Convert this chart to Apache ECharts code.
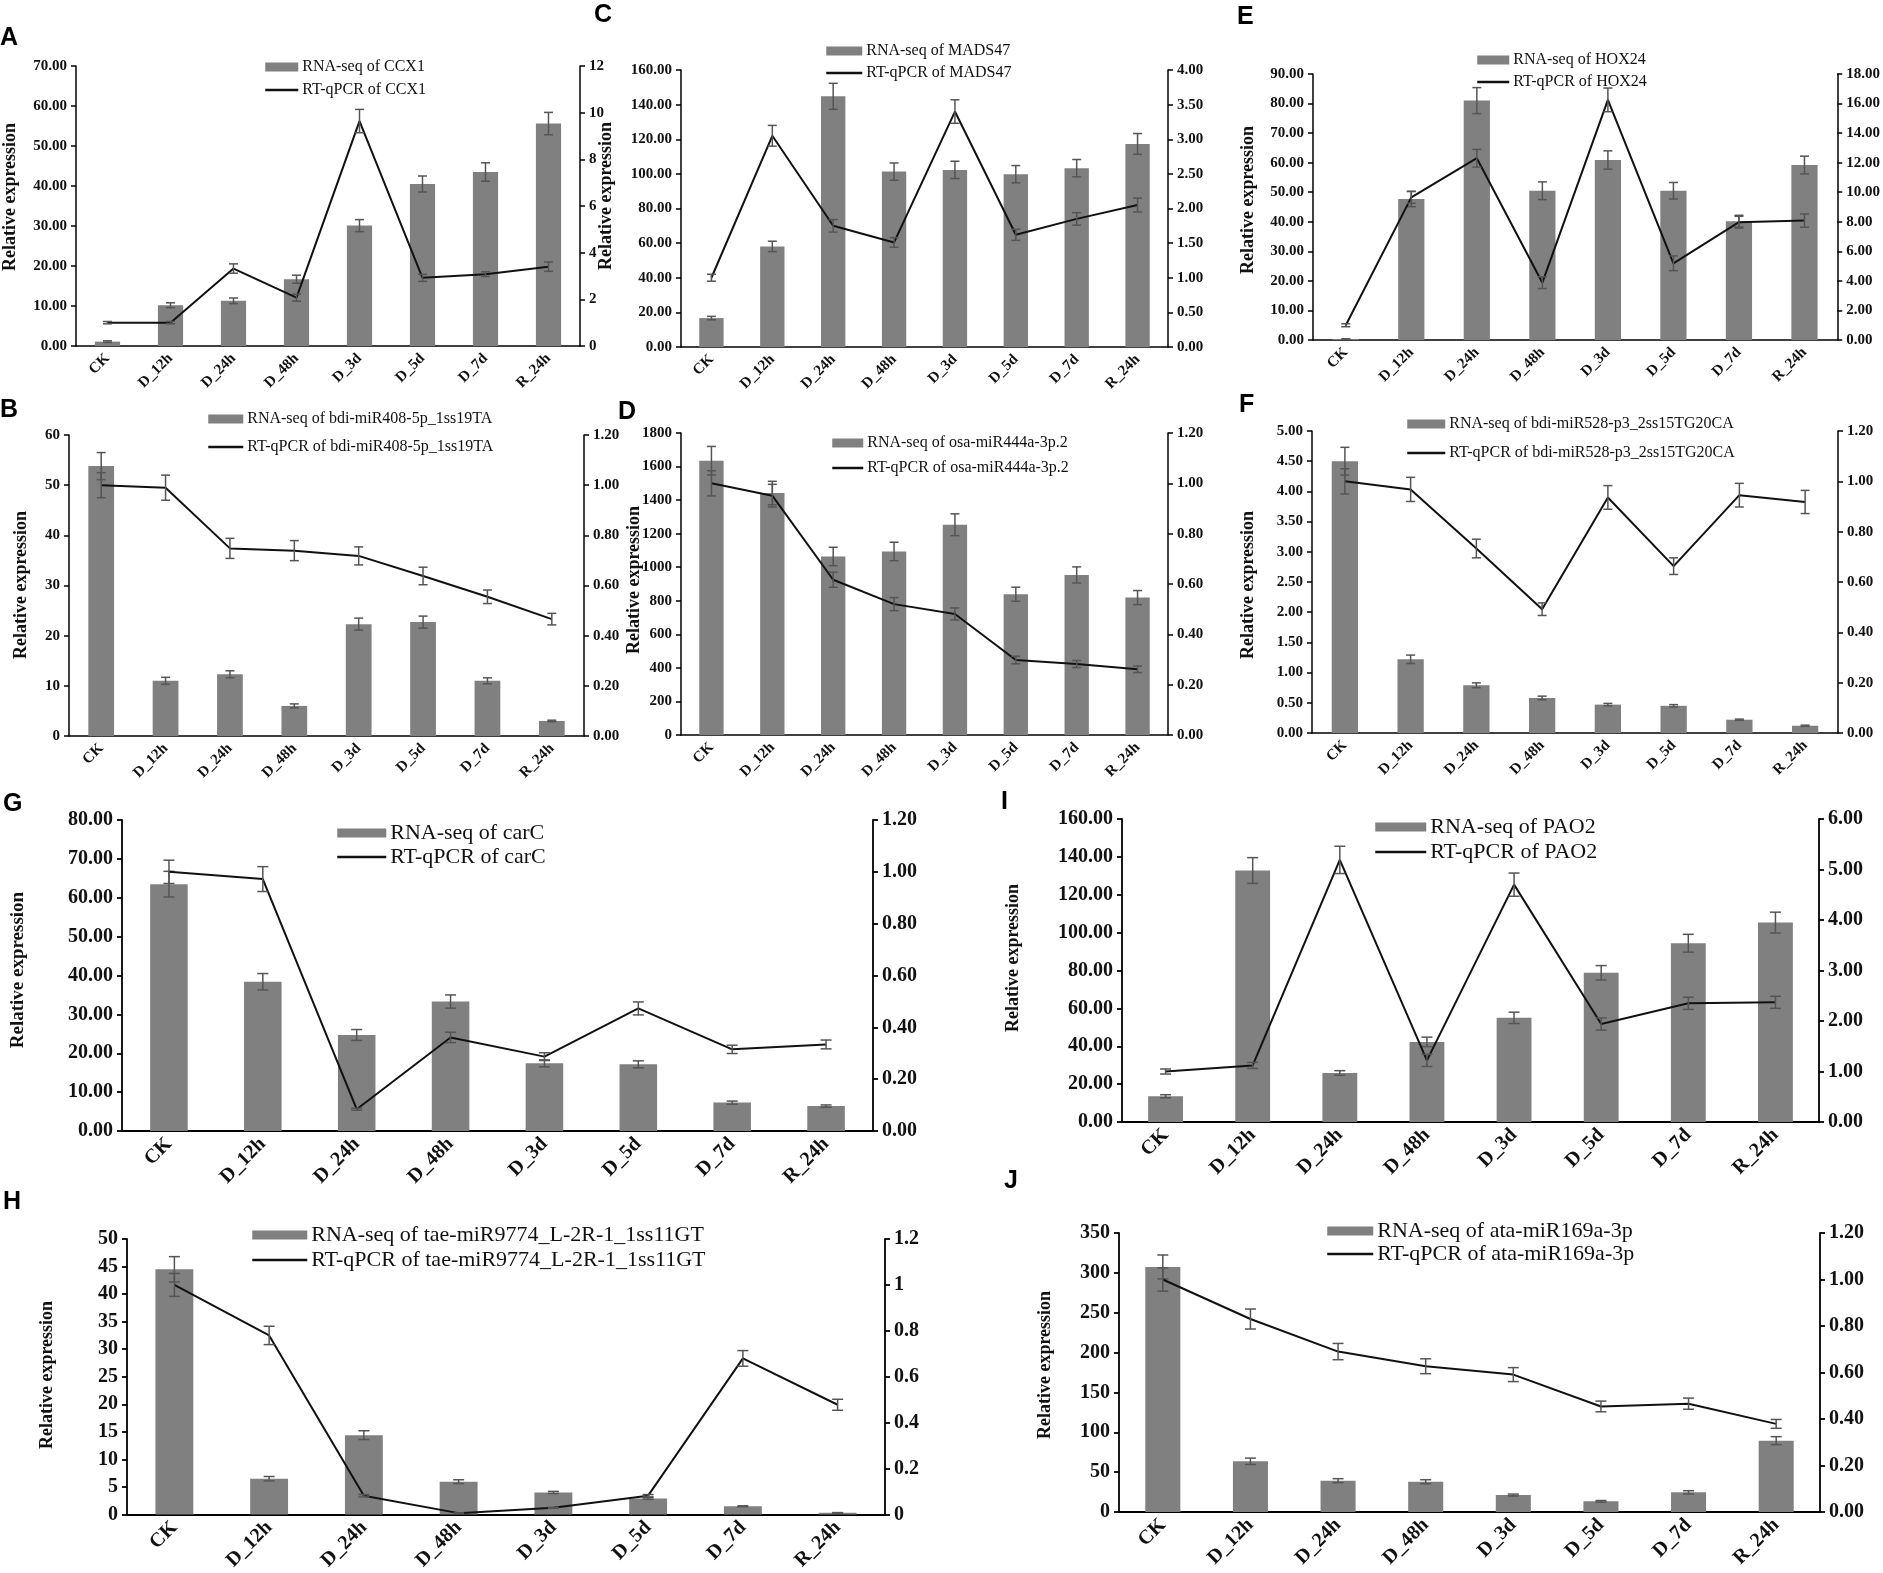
<!DOCTYPE html>
<html>
<head>
<meta charset="utf-8">
<script src="https://cdn.jsdelivr.net/npm/echarts@6/dist/echarts.min.js"></script>
<style>
  html, body { margin: 0; padding: 0; background: #fff; }
  #chart { width: 1883px; height: 1573px; }
</style>
</head>
<body>
<div id="chart"></div>
<script>
const categories = ['CK', 'D_12h', 'D_24h', 'D_48h', 'D_3d', 'D_5d', 'D_7d', 'R_24h'];

// A - CCX1
const ccx1Rna = [1.1, 10.2, 11.3, 16.7, 30.1, 40.5, 43.5, 55.6];
const ccx1RnaErr = [0.2, 0.6, 0.7, 1.0, 1.5, 2.0, 2.3, 2.8];
const ccx1Qpcr = [1.0, 1.0, 3.32, 2.07, 9.64, 2.92, 3.08, 3.4];
const ccx1QpcrErr = [0.05, 0.05, 0.2, 0.15, 0.5, 0.15, 0.1, 0.2];

// C - MADS47
const mads47Rna = [16.7, 58.1, 144.8, 101.3, 102.3, 99.8, 103.3, 117.3];
const mads47RnaErr = [1.0, 3.0, 7.5, 5.0, 5.0, 5.0, 5.0, 6.0];
const mads47Qpcr = [1.0, 3.05, 1.75, 1.51, 3.4, 1.62, 1.85, 2.05];
const mads47QpcrErr = [0.05, 0.15, 0.09, 0.07, 0.17, 0.08, 0.09, 0.1];

// E - HOX24
const hox24Rna = [0.3, 47.7, 81.0, 50.5, 60.9, 50.5, 40.2, 59.2];
const hox24RnaErr = [0.1, 2.6, 4.4, 3.0, 3.1, 2.8, 2.0, 3.0];
const hox24Qpcr = [1.0, 9.65, 12.3, 3.88, 16.25, 5.19, 7.97, 8.08];
const hox24QpcrErr = [0.1, 0.4, 0.6, 0.4, 0.8, 0.5, 0.4, 0.45];

// B - bdi-miR408-5p_1ss19TA
const mir408Rna = [53.8, 11.0, 12.3, 6.0, 22.3, 22.7, 11.0, 3.0];
const mir408RnaErr = [2.7, 0.7, 0.7, 0.4, 1.2, 1.2, 0.6, 0.15];
const mir408Qpcr = [1.0, 0.99, 0.748, 0.739, 0.718, 0.638, 0.555, 0.466];
const mir408QpcrErr = [0.05, 0.05, 0.04, 0.04, 0.036, 0.035, 0.027, 0.023];

// D - osa-miR444a-3p.2
const mir444Rna = [1635, 1442, 1064, 1094, 1253, 839, 954, 819];
const mir444RnaErr = [85, 70, 55, 55, 65, 42, 48, 42];
const mir444Qpcr = [1.0, 0.951, 0.617, 0.52, 0.481, 0.298, 0.282, 0.261];
const mir444QpcrErr = [0.05, 0.045, 0.03, 0.026, 0.024, 0.015, 0.014, 0.013];

// F - bdi-miR528-p3_2ss15TG20CA
const mir528Rna = [4.5, 1.22, 0.79, 0.58, 0.47, 0.45, 0.22, 0.12];
const mir528RnaErr = [0.23, 0.07, 0.04, 0.03, 0.02, 0.02, 0.01, 0.01];
const mir528Qpcr = [1.0, 0.968, 0.733, 0.492, 0.936, 0.663, 0.945, 0.918];
const mir528QpcrErr = [0.05, 0.048, 0.037, 0.025, 0.047, 0.033, 0.047, 0.046];

// G - carC
const carcRna = [63.5, 38.4, 24.7, 33.3, 17.4, 17.15, 7.3, 6.4];
const carcRnaErr = [3.3, 2.1, 1.4, 1.7, 0.9, 0.9, 0.4, 0.3];
const carcQpcr = [1.0, 0.972, 0.084, 0.361, 0.287, 0.473, 0.315, 0.334];
const carcQpcrErr = [0.045, 0.048, 0.004, 0.02, 0.015, 0.025, 0.016, 0.017];

// I - PAO2
const pao2Rna = [13.6, 132.8, 25.9, 42.3, 55.0, 78.8, 94.4, 105.3];
const pao2RnaErr = [0.8, 6.8, 1.2, 2.5, 3.0, 3.8, 4.7, 5.5];
const pao2Qpcr = [1.0, 1.12, 5.19, 1.22, 4.7, 1.94, 2.35, 2.37];
const pao2QpcrErr = [0.05, 0.06, 0.27, 0.12, 0.23, 0.12, 0.12, 0.12];

// H - tae-miR9774_L-2R-1_1ss11GT
const mir9774Rna = [44.5, 6.5, 14.4, 5.96, 4.0, 2.9, 1.5, 0.3];
const mir9774RnaErr = [2.3, 0.4, 0.8, 0.35, 0.2, 0.15, 0.08, 0.05];
const mir9774Qpcr = [1.0, 0.78, 0.082, 0.006, 0.029, 0.082, 0.68, 0.478];
const mir9774QpcrErr = [0.05, 0.04, 0.005, 0.001, 0.002, 0.005, 0.034, 0.024];

// J - ata-miR169a-3p
const mir169Rna = [307.4, 63.6, 39.3, 38.0, 21.3, 13.4, 24.7, 89.5];
const mir169RnaErr = [15, 4, 2.5, 2.5, 1.2, 1.0, 2.0, 5.0];
const mir169Qpcr = [1.0, 0.83, 0.69, 0.627, 0.591, 0.454, 0.466, 0.379];
const mir169QpcrErr = [0.05, 0.043, 0.035, 0.032, 0.03, 0.023, 0.024, 0.019];

const serif = '"Liberation Serif", "Times New Roman", serif';
const sans = '"Liberation Sans", Arial, sans-serif';

// text sizes for the small (top two rows) and large (bottom two rows) panels
const smallStyle = { tick: 15, xlabel: 15, legend: 16, cap: 9, axisWidth: 1.5 };
const largeStyle = { tick: 20, xlabel: 20, legend: 22, cap: 11, axisWidth: 1.8 };

// grid: [left, top, width, height], legend: [left, first item centre y, swatch width, row spacing]
const panels = [
    { gene: 'CCX1', rna: ccx1Rna, rnaErr: ccx1RnaErr, qpcr: ccx1Qpcr, qpcrErr: ccx1QpcrErr,
      leftAxis: [70, 10, 2], rightAxis: [12, 2, 0], grid: [76, 66, 504, 280], legend: [264, 67, 33, 23], st: smallStyle },
    { gene: 'MADS47', rna: mads47Rna, rnaErr: mads47RnaErr, qpcr: mads47Qpcr, qpcrErr: mads47QpcrErr,
      leftAxis: [160, 20, 2], rightAxis: [4, 0.5, 2], grid: [681, 70, 487, 277], legend: [825, 51, 36, 22], st: smallStyle },
    { gene: 'HOX24', rna: hox24Rna, rnaErr: hox24RnaErr, qpcr: hox24Qpcr, qpcrErr: hox24QpcrErr,
      leftAxis: [90, 10, 2], rightAxis: [18, 2, 2], grid: [1313, 74, 525, 266], legend: [1476, 60, 32, 22], st: smallStyle },
    { gene: 'bdi-miR408-5p_1ss19TA', rna: mir408Rna, rnaErr: mir408RnaErr, qpcr: mir408Qpcr, qpcrErr: mir408QpcrErr,
      leftAxis: [60, 10, 0], rightAxis: [1.2, 0.2, 2], grid: [69, 435, 515, 301], legend: [207, 419, 35, 28], st: smallStyle },
    { gene: 'osa-miR444a-3p.2', rna: mir444Rna, rnaErr: mir444RnaErr, qpcr: mir444Qpcr, qpcrErr: mir444QpcrErr,
      leftAxis: [1800, 200, 0], rightAxis: [1.2, 0.2, 2], grid: [681, 433, 487, 302], legend: [831, 443, 31, 25], st: smallStyle },
    { gene: 'bdi-miR528-p3_2ss15TG20CA', rna: mir528Rna, rnaErr: mir528RnaErr, qpcr: mir528Qpcr, qpcrErr: mir528QpcrErr,
      leftAxis: [5, 0.5, 2], rightAxis: [1.2, 0.2, 2], grid: [1312, 431, 526, 302], legend: [1406, 424, 38, 29], st: smallStyle },
    { gene: 'carC', rna: carcRna, rnaErr: carcRnaErr, qpcr: carcQpcr, qpcrErr: carcQpcrErr,
      leftAxis: [80, 10, 2], rightAxis: [1.2, 0.2, 2], grid: [122, 820, 751, 311], legend: [336, 833, 49, 24], st: largeStyle },
    { gene: 'PAO2', rna: pao2Rna, rnaErr: pao2RnaErr, qpcr: pao2Qpcr, qpcrErr: pao2QpcrErr,
      leftAxis: [160, 20, 2], rightAxis: [6, 1, 2], grid: [1122, 819, 697, 303], legend: [1374, 827, 51, 25], st: largeStyle },
    { gene: 'tae-miR9774_L-2R-1_1ss11GT', rna: mir9774Rna, rnaErr: mir9774RnaErr, qpcr: mir9774Qpcr, qpcrErr: mir9774QpcrErr,
      leftAxis: [50, 5, 0], rightAxis: [1.2, 0.2, -1], grid: [127, 1239, 758, 280], legend: [251, 1235, 55, 25], st: largeStyle },
    { gene: 'ata-miR169a-3p', rna: mir169Rna, rnaErr: mir169RnaErr, qpcr: mir169Qpcr, qpcrErr: mir169QpcrErr,
      leftAxis: [350, 50, 0], rightAxis: [1.2, 0.2, 2], grid: [1119, 1233, 701, 279], legend: [1326, 1231, 46, 23], st: largeStyle }
];

// panel letters: [text, left, top]
const letters = [
    ['A', 0, 26], ['C', 594, 3], ['E', 1237, 5],
    ['B', 0, 398], ['D', 618, 400], ['F', 1239, 393],
    ['G', 3, 792], ['I', 1001, 790], ['H', 3, 1190], ['J', 1004, 1169]
];

// y-axis titles: [centre x, centre y, font size]
const titles = [
    [10, 197, 18], [606, 196, 18], [1248, 200, 18],
    [21, 585, 18], [634, 580, 18], [1248, 585, 18],
    [18, 970, 19], [1013, 958, 18], [47, 1375, 18], [1045, 1365, 18]
];

function valueAxis(gridIndex, spec, position, st) {
    const [max, interval, dec] = spec;
    return {
        type: 'value', gridIndex: gridIndex, position: position,
        min: 0, max: max, interval: interval,
        splitLine: { show: false },
        axisLine: { show: true, lineStyle: { color: '#000', width: st.axisWidth } },
        axisTick: { show: true, length: 5, lineStyle: { color: '#000', width: st.axisWidth } },
        axisLabel: {
            color: '#111', fontFamily: serif, fontWeight: 'bold', fontSize: st.tick, margin: 9,
            formatter: dec < 0 ? undefined : v => v.toFixed(dec)
        }
    };
}

function errorSeries(xi, yi, values, errs, cap, z) {
    return {
        type: 'custom', xAxisIndex: xi, yAxisIndex: yi, z: z, silent: true, clip: false,
        data: values.map((v, k) => [k, v, errs[k]]),
        encode: { x: 0, y: 1 },
        renderItem: function (params, api) {
            const x = api.value(0), v = api.value(1), e = api.value(2);
            const hi = api.coord([x, v + e]);
            const lo = api.coord([x, v - e]);
            const h = cap / 2;
            const style = { stroke: '#555', lineWidth: 1.5 };
            return {
                type: 'group',
                children: [
                    { type: 'line', shape: { x1: hi[0], y1: hi[1], x2: lo[0], y2: lo[1] }, style: style },
                    { type: 'line', shape: { x1: hi[0] - h, y1: hi[1], x2: hi[0] + h, y2: hi[1] }, style: style },
                    { type: 'line', shape: { x1: lo[0] - h, y1: lo[1], x2: lo[0] + h, y2: lo[1] }, style: style }
                ]
            };
        }
    };
}

const grid = [], xAxis = [], yAxis = [], series = [], legend = [];

panels.forEach((p, i) => {
    const st = p.st;
    grid.push({ left: p.grid[0], top: p.grid[1], width: p.grid[2], height: p.grid[3] });
    xAxis.push({
        type: 'category', gridIndex: i, data: categories,
        axisLine: { lineStyle: { color: '#000', width: st.axisWidth } },
        axisTick: { length: 5, lineStyle: { color: '#000', width: st.axisWidth } },
        axisLabel: { rotate: 45, interval: 0, margin: 10, color: '#111', fontFamily: serif, fontWeight: 'bold', fontSize: st.xlabel }
    });
    yAxis.push(valueAxis(i, p.leftAxis, 'left', st), valueAxis(i, p.rightAxis, 'right', st));

    const rnaName = 'RNA-seq of ' + p.gene;
    const qName = 'RT-qPCR of ' + p.gene;
    series.push({
        type: 'bar', name: rnaName, xAxisIndex: i, yAxisIndex: 2 * i, data: p.rna,
        barWidth: '40%', itemStyle: { color: '#808080' }, z: 2
    });
    series.push(errorSeries(i, 2 * i, p.rna, p.rnaErr, st.cap, 3));
    series.push({
        type: 'line', name: qName, xAxisIndex: i, yAxisIndex: 2 * i + 1, data: p.qpcr,
        symbol: 'none', lineStyle: { color: '#111', width: 2 }, itemStyle: { color: '#111' }, z: 4
    });
    series.push(errorSeries(i, 2 * i + 1, p.qpcr, p.qpcrErr, st.cap, 5));

    const lh = st.legend + 2;
    legend.push({
        orient: 'vertical', left: p.legend[0], top: p.legend[1] - lh / 2, padding: 0,
        itemWidth: p.legend[2], itemHeight: 9, itemGap: p.legend[3] - lh, selectedMode: false,
        data: [
            { name: rnaName, icon: 'rect' },
            { name: qName, itemStyle: { opacity: 0 }, lineStyle: { color: '#111', width: 2.5, opacity: 1 } }
        ],
        textStyle: { fontFamily: serif, fontSize: st.legend, color: '#111', lineHeight: lh, padding: [0, 0, 0, -1] }
    });
});

const graphic = [];
letters.forEach(([t, x, y]) => {
    graphic.push({
        type: 'text', x: x, y: y,
        style: { text: t, fontFamily: sans, fontWeight: 'bold', fontSize: 25, fill: '#000', align: 'left', verticalAlign: 'top' }
    });
});
titles.forEach(([x, y, size]) => {
    graphic.push({
        type: 'text', x: x, y: y, rotation: Math.PI / 2,
        style: { text: 'Relative expression', fontFamily: serif, fontWeight: 'bold', fontSize: size, fill: '#111', align: 'center', verticalAlign: 'middle' }
    });
});

const chart = echarts.init(document.getElementById('chart'));
chart.setOption({
    animation: false,
    backgroundColor: '#fff',
    grid: grid,
    xAxis: xAxis,
    yAxis: yAxis,
    legend: legend,
    series: series,
    graphic: graphic
});
</script>
</body>
</html>
